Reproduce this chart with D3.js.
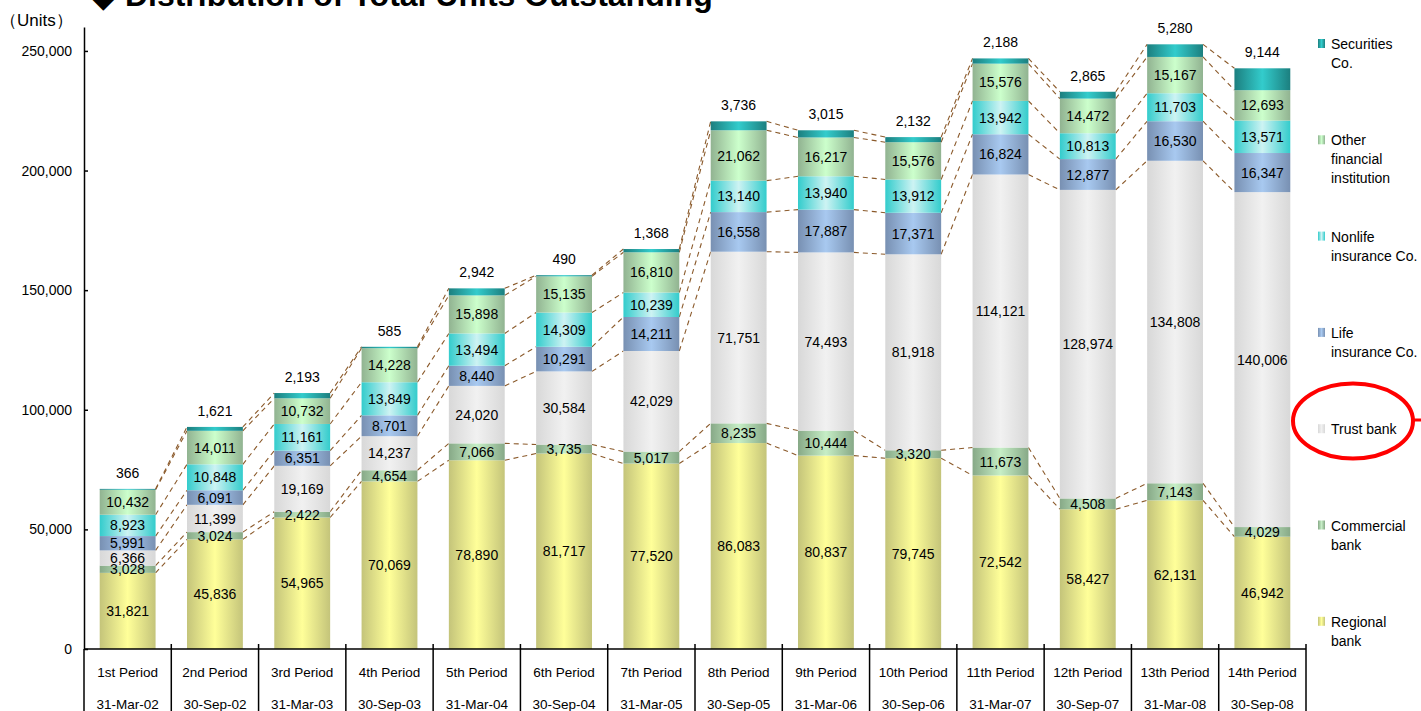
<!DOCTYPE html>
<html>
<head>
<meta charset="utf-8">
<script src="https://cdn.jsdelivr.net/npm/d3@7"></script>
<style>
  html, body { margin: 0; padding: 0; background: #fff; }
  svg { display: block; font-family: "Liberation Sans", Arial, sans-serif; }
</style>
</head>
<body>
<svg id="chart" width="1421" height="711"></svg>
<script>
// Period labels and record dates
const periods = ["1st Period","2nd Period","3rd Period","4th Period","5th Period","6th Period","7th Period",
                 "8th Period","9th Period","10th Period","11th Period","12th Period","13th Period","14th Period"];
const dates = ["31-Mar-02","30-Sep-02","31-Mar-03","30-Sep-03","31-Mar-04","30-Sep-04","31-Mar-05",
               "30-Sep-05","31-Mar-06","30-Sep-06","31-Mar-07","30-Sep-07","31-Mar-08","30-Sep-08"];

// Units outstanding by holder type (stacked bottom to top)
const regionalBank   = [31821,45836,54965,70069,78890,81717,77520,86083,80837,79745,72542,58427,62131,46942];
const commercialBank = [3028,3024,2422,4654,7066,3735,5017,8235,10444,3320,11673,4508,7143,4029];
const trustBank      = [6366,11399,19169,14237,24020,30584,42029,71751,74493,81918,114121,128974,134808,140006];
const lifeInsurance  = [5991,6091,6351,8701,8440,10291,14211,16558,17887,17371,16824,12877,16530,16347];
const nonlifeInsurance = [8923,10848,11161,13849,13494,14309,10239,13140,13940,13912,13942,10813,11703,13571];
const otherFinancial = [10432,14011,10732,14228,15898,15135,16810,21062,16217,15576,15576,14472,15167,12693];
const securitiesCo   = [366,1621,2193,585,2942,490,1368,3736,3015,2132,2188,2865,5280,9144];

const yTicks = [0, 50000, 100000, 150000, 200000, 250000];

const series = [
  { key: "regional",   name: ["Regional","bank"],            values: regionalBank,     edge: "#c4c47a", mid: "#ffff99" },
  { key: "commercial", name: ["Commercial","bank"],          values: commercialBank,   edge: "#87a987", mid: "#c6eec6" },
  { key: "trust",      name: ["Trust bank"],                 values: trustBank,        edge: "#d8d8d8", mid: "#f1f1f1" },
  { key: "life",       name: ["Life","insurance Co."],       values: lifeInsurance,    edge: "#7890b2", mid: "#a8c9f0" },
  { key: "nonlife",    name: ["Nonlife","insurance Co."],    values: nonlifeInsurance, edge: "#33cccc", mid: "#cdf3f3" },
  { key: "other",      name: ["Other","financial","institution"], values: otherFinancial, edge: "#91b391", mid: "#ccffcc" },
  { key: "securities", name: ["Securities","Co."],           values: securitiesCo,     edge: "#1c7f7f", mid: "#33cccc" }
];

const svg = d3.select("#chart");
const fmt = d3.format(",");

const x = d3.scaleBand().domain(periods).range([84, 1306]).paddingInner(0.36).paddingOuter(0.18);
const y = d3.scaleLinear().domain([0, 260000]).range([649, 27]);
const bw = x.bandwidth();

// Horizontal cylinder-like gradients
const defs = svg.append("defs");
series.forEach(s => {
  const g = defs.append("linearGradient").attr("id", "g-" + s.key)
    .attr("x1", "0").attr("x2", "1").attr("y1", "0").attr("y2", "0");
  g.append("stop").attr("offset", "0").attr("stop-color", s.edge);
  g.append("stop").attr("offset", "0.5").attr("stop-color", s.mid);
  g.append("stop").attr("offset", "1").attr("stop-color", s.edge);
});

// Stack data
const rows = periods.map((p, i) => {
  const r = { period: p };
  series.forEach(s => r[s.key] = s.values[i]);
  return r;
});
const stacked = d3.stack().keys(series.map(s => s.key))(rows);

// Title (partially above the canvas)
svg.append("text").attr("x", 91).attr("y", 6)
  .attr("font-size", 32).attr("font-weight", "bold").attr("fill", "#000")
  .text("◆ Distribution of Total Units Outstanding");

// Unit label
svg.append("text").attr("x", 0).attr("y", 26)
  .attr("font-size", 17).attr("fill", "#000")
  .text("（Units）");

// Dashed connector lines between adjacent bars
const conn = svg.append("g").attr("stroke", "#8b5a2b").attr("stroke-width", 1.1)
  .attr("stroke-dasharray", "5,4").attr("fill", "none");
stacked.forEach(layer => {
  for (let i = 0; i < periods.length - 1; i++) {
    conn.append("line")
      .attr("x1", x(periods[i]) + bw).attr("y1", y(layer[i][1]))
      .attr("x2", x(periods[i + 1])).attr("y2", y(layer[i + 1][1]));
  }
});

// Bars
stacked.forEach((layer, k) => {
  svg.append("g").selectAll("rect").data(layer).join("rect")
    .attr("x", d => x(d.data.period))
    .attr("width", bw)
    .attr("y", d => y(d[1]))
    .attr("height", d => y(d[0]) - y(d[1]))
    .attr("fill", "url(#g-" + series[k].key + ")");
});

// Value labels
const labels = svg.append("g").attr("font-size", 14).attr("fill", "#000").attr("text-anchor", "middle");
stacked.forEach((layer, k) => {
  const isTop = series[k].key === "securities";
  layer.forEach(d => {
    const cx = x(d.data.period) + bw / 2;
    const cy = isTop ? y(d[1]) - 16 : (y(d[0]) + y(d[1])) / 2;
    labels.append("text").attr("x", cx).attr("y", cy).attr("dy", "0.36em")
      .text(fmt(d[1] - d[0]));
  });
});

// Y axis with inward ticks
const yAxis = d3.axisLeft(y).tickValues(yTicks).tickFormat(fmt)
  .tickSizeInner(-4).tickSizeOuter(0).tickPadding(12);
const ya = svg.append("g").attr("transform", "translate(84,0)").call(yAxis);
ya.select(".domain").attr("stroke", "#000").attr("stroke-width", 1.5);
ya.selectAll(".tick line").attr("stroke", "#000").attr("stroke-width", 1.5);
ya.selectAll(".tick text").attr("font-size", 14).attr("fill", "#000")
  .attr("font-family", "Liberation Sans, Arial, sans-serif");

// X axis as a table of periods and dates
const step = x.step();
const xa = svg.append("g").attr("stroke", "#000").attr("stroke-width", 1.5);
xa.append("line").attr("x1", 84).attr("x2", 84 + step * periods.length).attr("y1", 649).attr("y2", 649);
d3.range(periods.length + 1).forEach(i => {
  xa.append("line").attr("x1", 84 + i * step).attr("x2", 84 + i * step)
    .attr("y1", i === 0 ? 649 : 644).attr("y2", 711);
});
const xt = svg.append("g").attr("font-size", 13.5).attr("fill", "#000").attr("text-anchor", "middle");
periods.forEach((p, i) => {
  const cx = x(p) + bw / 2;
  xt.append("text").attr("x", cx).attr("y", 672).attr("dy", "0.36em").text(p);
  xt.append("text").attr("x", cx).attr("y", 704).attr("dy", "0.36em").text(dates[i]);
});

// Legend, top entry first
const legendOrder = series.slice().reverse();
const lg = svg.append("g").attr("font-size", 14).attr("fill", "#000");
legendOrder.forEach((s, i) => {
  const ly = 44 + i * 96.3;
  lg.append("rect").attr("x", 1318).attr("y", ly - 5).attr("width", 7).attr("height", 9)
    .attr("fill", "url(#g-" + s.key + ")");
  s.name.forEach((line, j) => {
    lg.append("text").attr("x", 1331).attr("y", ly + j * 19).attr("dy", "0.36em").text(line);
  });
});

// Highlight around the trust bank legend entry
svg.append("ellipse").attr("cx", 1353).attr("cy", 421).attr("rx", 60).attr("ry", 37.5)
  .attr("fill", "none").attr("stroke", "#ff0000").attr("stroke-width", 4);
svg.append("line").attr("x1", 1412).attr("x2", 1421).attr("y1", 420).attr("y2", 420)
  .attr("stroke", "#ff0000").attr("stroke-width", 3);
</script>
</body>
</html>
